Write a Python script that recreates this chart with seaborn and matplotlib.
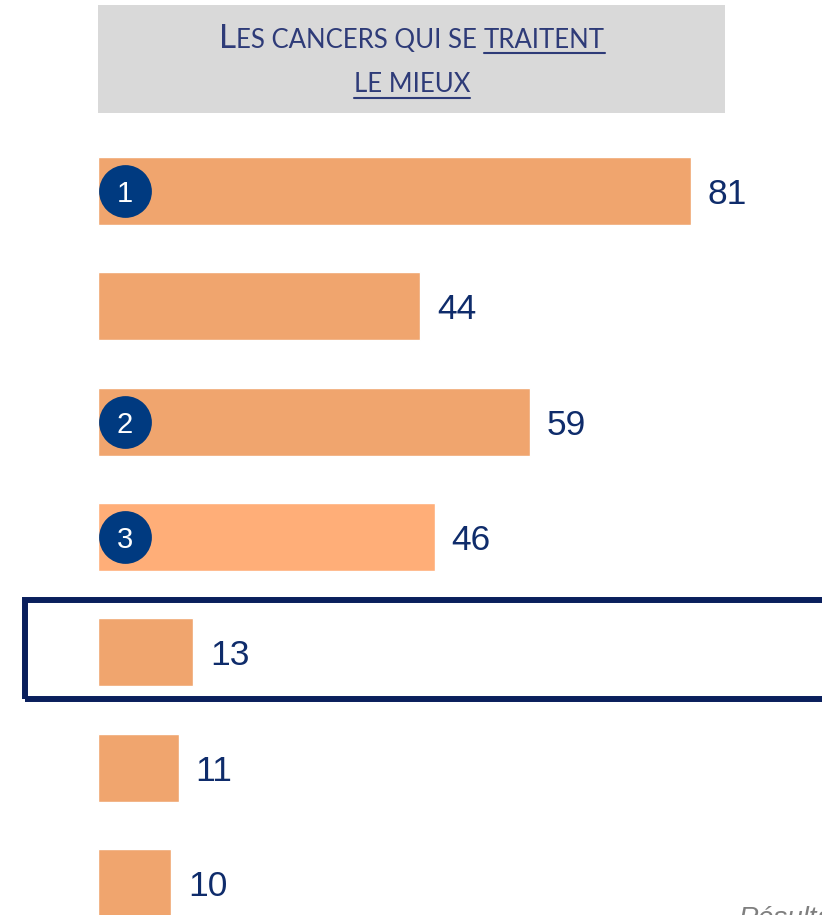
import matplotlib
matplotlib.use("Agg")
import matplotlib.pyplot as plt
from matplotlib.patches import Rectangle
from matplotlib.lines import Line2D
import seaborn as sns

# données
cancers = ["c1", "c2", "c3", "c4", "c5", "c6", "c7"]
valeurs = [81, 44, 59, 46, 13, 11, 10]
rangs = [1, None, 2, 3, None, None, None]
couleurs = ["#F0A56E", "#F0A56E", "#F0A56E", "#FFAE78", "#F0A56E", "#F0A56E", "#F0A56E"]

W, H = 822, 915
navy = "#0F2C6B"
sns.set_theme(style="white")
plt.rcParams["font.family"] = ["Liberation Sans", "DejaVu Sans"]

fig = plt.figure(figsize=(W / 100, H / 100), dpi=100)

# axes: barres à partir de x=98 px, 7.32 px par unité
px_unit = 7.32
spacing = 115.33
top_px = 191 - spacing / 2
ax = fig.add_axes([98 / W, 0, (W - 98) / W, (H - top_px) / H])
sns.barplot(x=valeurs, y=cancers, hue=cancers, palette=couleurs, legend=False,
            orient="h", width=0.59, ax=ax, saturation=1)
ax.set_xlim(0, (W - 98) / px_unit)
ax.set_ylim((H - 191) / spacing, -0.5)
ax.axis("off")

for i, v in enumerate(valeurs):
    ax.text(v + 2.3, i, str(v), va="center_baseline", ha="left", fontsize=25.5, color=navy)

# pastilles de rang
for i, r in enumerate(rangs):
    if r is None:
        continue
    ax.scatter([27 / px_unit], [i], s=38 ** 2, color="#003A80", zorder=5, linewidths=0)
    ax.text(27 / px_unit, i, str(r), ha="center", va="center_baseline", color="white",
            fontsize=21, zorder=6)

# cadre autour de la 5e barre
fig.patches.append(Rectangle((25 / W, 1 - 699 / H), 1.0, 99 / H, transform=fig.transFigure,
                             fill=False, edgecolor="#0A1F5C", linewidth=4.3, clip_on=False))

# bandeau titre
fig.patches.append(Rectangle((98 / W, 1 - 113 / H), 627 / W, 108 / H, transform=fig.transFigure,
                             facecolor="#D9D9D9", edgecolor="none", zorder=0))

# titre en petites capitales, morceaux enchaînés puis centrés
tcol = "#2E3B78"
tfam = ["Lato", "DejaVu Sans"]
y1 = 1 - 48 / H
y2 = 1 - 92 / H
r = fig.canvas.get_renderer()
morceaux = [("L", 24, 0), ("ES CANCERS QUI SE", 18.5, 0), ("TRAITENT", 18.5, 7)]
textes = []
x = 0
for s, fs, gap in morceaux:
    x += gap
    t = fig.text(x / W, y1, s, fontsize=fs, color=tcol, family=tfam, va="baseline")
    bb = t.get_window_extent(r)
    textes.append((t, x))
    x += bb.width
decal = 412 - x / 2
for t, x0 in textes:
    t.set_x((x0 + decal) / W)
t3 = textes[-1][0]
t4 = fig.text(412 / W, y2, "LE MIEUX", fontsize=18.5, color=tcol, family=tfam, va="baseline", ha="center")

fig.canvas.draw()
for t, yb in [(t3, 53), (t4, 98)]:
    bb = t.get_window_extent(r)
    fig.add_artist(Line2D([bb.x0 / W, bb.x1 / W], [1 - yb / H, 1 - yb / H],
                          transform=fig.transFigure, color=tcol, linewidth=1.5))

# texte coupé en bas à droite
fig.text(738 / W, 1 - 906 / H, "Résultats", fontsize=20, style="italic", color="#7F7F7F",
         va="top", ha="left")

fig.savefig("out.png", dpi=100)
